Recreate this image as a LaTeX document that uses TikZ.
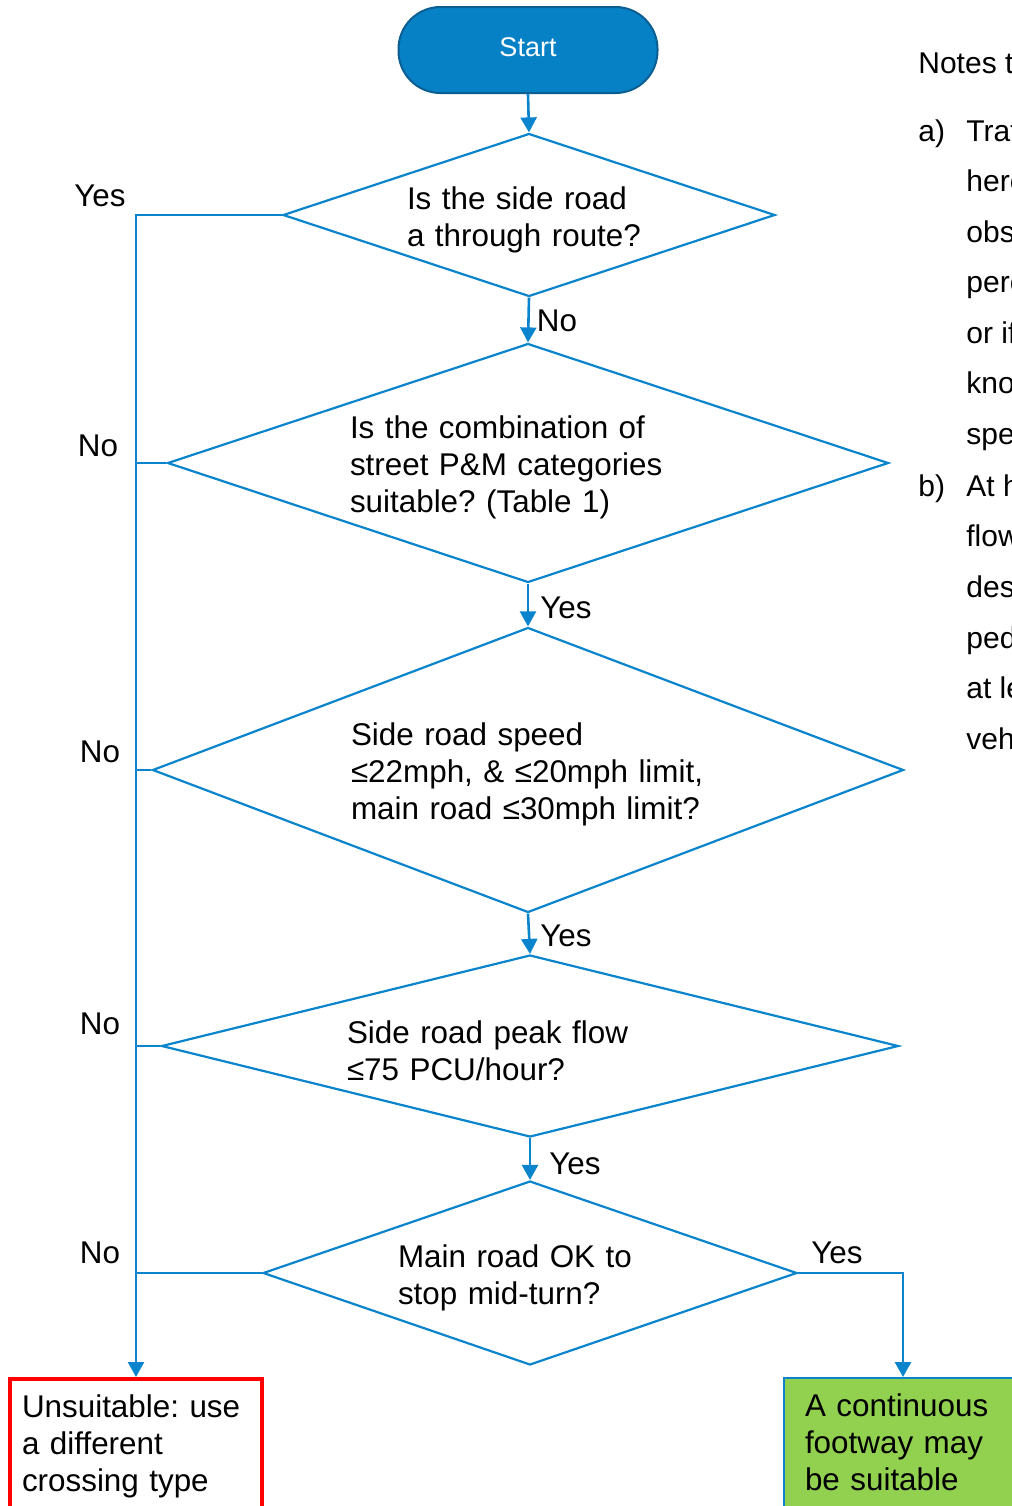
\documentclass[tikz,border=0pt]{standalone}
\usepackage{fontspec}
\setmainfont{Liberation Sans}
\usetikzlibrary{arrows.meta,positioning,shapes.geometric}
\definecolor{flowblue}{HTML}{0A84CC}
\definecolor{startfill}{HTML}{0781C6}
\definecolor{startedge}{HTML}{0B5E92}
\definecolor{okgreen}{HTML}{92D050}
\definecolor{badred}{HTML}{FF0000}
\frenchspacing

\tikzset{
  startbox/.style={rectangle, rounded corners=21pt, minimum width=129.5pt, minimum height=43pt,
    fill=startfill, draw=startedge, line width=1pt, text=white, text depth=3pt,
    font=\fontsize{13.5}{16}\selectfont},
  decision/.style={diamond, draw=flowblue, line width=1.1pt, inner sep=0pt, align=left,
    font=\fontsize{15.7}{18.5}\selectfont, execute at begin node={\rule{0pt}{16pt}}},
  flowline/.style={draw=flowblue, line width=1.3pt},
  flowarrow/.style={flowline, -{Triangle[width=8pt,length=7.5pt]}},
  answer/.style={font=\fontsize{15.7}{18.5}\selectfont, anchor=base, inner sep=0pt},
  outcome/.style={rectangle, anchor=north, align=left, inner ysep=8pt,
    font=\fontsize{15.7}{18.5}\selectfont},
  notetext/.style={font=\fontsize{15}{18}\selectfont, anchor=base west, inner sep=0pt},
}

\begin{document}
\begin{tikzpicture}[x=0.5pt,y=-0.5pt]
\useasboundingbox (0,0) rectangle (1012,1506);
\clip (0,0) rectangle (1012,1506);

% --- Flow chart ---
\node[startbox] (start) at (528,50) {Start};

\node[decision, text width=122pt, minimum width=246pt, minimum height=81.5pt, shape aspect=3]
  (q1) at (529,215) {Is the side road\\a through route?};
\node[decision, text width=178pt, minimum width=360.5pt, minimum height=119.5pt, shape aspect=3]
  (q2) at (528,463) {Is the combination of\\street P\&M categories\\suitable? (Table 1)};
\node[decision, text width=177pt, minimum width=375.5pt, minimum height=142.5pt, shape aspect=2.6]
  (q3) at (528,770) {Side road speed\\≤22mph, \& ≤20mph limit,\\main road ≤30mph limit?};
\node[decision, text width=183pt, minimum width=368.5pt, minimum height=91pt, shape aspect=4,
  execute at begin node={\rule{0pt}{12pt}}]
  (q4) at (530,1046) {Side road peak flow\\≤75 PCU/hour?};
\node[decision, text width=132pt, minimum width=267pt, minimum height=92pt, shape aspect=2.9]
  (q5) at (530,1273) {Main road OK to\\stop mid-turn?};

% Outcomes
\node[outcome, draw=badred, line width=2.2pt, text width=114pt, inner xsep=6pt]
  (unsuit) at (136,1377) {Unsuitable: use\\a different\\crossing type};
\node[outcome, draw=flowblue, fill=okgreen, line width=1pt, text width=98pt, inner xsep=10.5pt]
  (cont) at (903,1377) {A continuous\\footway may\\be suitable};

% Main spine
\draw[flowarrow] (start.south) -- (q1.north);
\draw[flowarrow] (q1.south) -- (q2.north);
\draw[flowarrow] (q2.south) -- (q3.north);
\draw[flowarrow] (q3.south) -- (q4.north);
\draw[flowarrow] (q4.south) -- (q5.north);

% Left-hand exits
\draw[flowarrow] (q1.west) -| (unsuit.north);
\draw[flowline] (q2.west) -- (q2.west -| unsuit.north);
\draw[flowline] (q3.west) -- (q3.west -| unsuit.north);
\draw[flowline] (q4.west) -- (q4.west -| unsuit.north);
\draw[flowline] (q5.west) -- (q5.west -| unsuit.north);

% Right-hand exit
\draw[flowarrow] (q5.east) -| (cont.north);

% Answers
\node[answer] (yes1) at (100,206) {Yes};
\node[answer] (no1) at (557,331) {No};
\node[answer] (yes2) at (566,618) {Yes};
\node[answer] (yes3) at (566,946) {Yes};
\node[answer] (yes4) at (575,1174) {Yes};
\node[answer] (yes5) at (837,1263) {Yes};
\node[answer] (no2) at (98,456) {No};
\node[answer] (no3) at (100,762) {No};
\node[answer] (no4) at (100,1034) {No};
\node[answer] (no5) at (100,1263) {No};

% --- Notes (cut off at the edge) ---
\node[notetext] (notes) at (918,73) {Notes t};
\node[notetext] (nla) at (918,141) {a)};
\node[notetext] (nlb) at (918,496) {b)};
\foreach \ln [count=\i from 0] in {Traf,here,obs,perc,or if,kno,spe}
  \node[notetext] (na\i) at (966,{141+50.5*\i}) {\ln};
\foreach \ln [count=\i from 0] in {At h,flow,des,ped,at le,veh}
  \node[notetext] (nb\i) at (966,{496+50.7*\i}) {\ln};
\end{tikzpicture}
\end{document}
